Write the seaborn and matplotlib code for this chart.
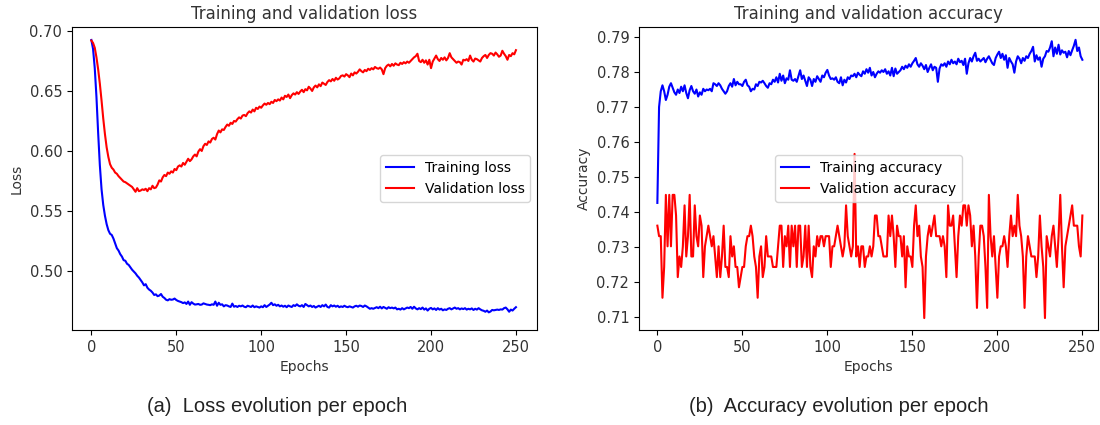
import matplotlib
matplotlib.use("Agg")
import matplotlib.pyplot as plt
import seaborn as sns
import numpy as np

epochs = list(range(251))

train_loss = [
    0.6925, 0.6850, 0.6690, 0.6450, 0.6150, 0.5880, 0.5680, 0.5550, 0.5460, 0.5390,
    0.5340, 0.5310, 0.5300, 0.5270, 0.5230, 0.5190, 0.5170, 0.5140, 0.5120, 0.5090,
    0.5085, 0.5060, 0.5050, 0.5030, 0.5010, 0.4995, 0.4980, 0.4960, 0.4945, 0.4925,
    0.4905, 0.4880, 0.4890, 0.4860, 0.4845, 0.4835, 0.4820, 0.4800, 0.4805, 0.4790,
    0.4795, 0.4808, 0.4785, 0.4775, 0.4760, 0.4755, 0.4765, 0.4760, 0.4762, 0.4770,
    0.4758, 0.4750, 0.4745, 0.4740, 0.4732, 0.4738, 0.4725, 0.4745, 0.4718, 0.4740,
    0.4728, 0.4720, 0.4722, 0.4725, 0.4718, 0.4720, 0.4730, 0.4725, 0.4720, 0.4718,
    0.4715, 0.4722, 0.4718, 0.4745, 0.4710, 0.4735, 0.4718, 0.4722, 0.4705, 0.4715,
    0.4712, 0.4705, 0.4700, 0.4728, 0.4702, 0.4708, 0.4700, 0.4710, 0.4705, 0.4712,
    0.4702, 0.4698, 0.4710, 0.4705, 0.4700, 0.4712, 0.4698, 0.4705, 0.4700, 0.4695,
    0.4705, 0.4698, 0.4715, 0.4700, 0.4710, 0.4720, 0.4735, 0.4715, 0.4722, 0.4710,
    0.4718, 0.4705, 0.4712, 0.4702, 0.4710, 0.4698, 0.4712, 0.4705, 0.4700, 0.4715,
    0.4708, 0.4722, 0.4710, 0.4705, 0.4715, 0.4700, 0.4725, 0.4715, 0.4705, 0.4712,
    0.4700, 0.4708, 0.4695, 0.4702, 0.4710, 0.4700, 0.4715, 0.4705, 0.4720, 0.4700,
    0.4695, 0.4715, 0.4705, 0.4712, 0.4702, 0.4710, 0.4698, 0.4705, 0.4700, 0.4710,
    0.4702, 0.4698, 0.4705, 0.4700, 0.4695, 0.4705, 0.4710, 0.4702, 0.4712, 0.4708,
    0.4700, 0.4712, 0.4705, 0.4695, 0.4685, 0.4690, 0.4685, 0.4692, 0.4698, 0.4690,
    0.4702, 0.4688, 0.4700, 0.4692, 0.4685, 0.4698, 0.4690, 0.4695, 0.4688, 0.4695,
    0.4680, 0.4685, 0.4678, 0.4690, 0.4680, 0.4688, 0.4695, 0.4690, 0.4700, 0.4685,
    0.4702, 0.4688, 0.4680, 0.4690, 0.4682, 0.4695, 0.4678, 0.4688, 0.4670, 0.4685,
    0.4692, 0.4680, 0.4688, 0.4675, 0.4690, 0.4678, 0.4685, 0.4672, 0.4680, 0.4675,
    0.4685, 0.4690, 0.4680, 0.4688, 0.4695, 0.4685, 0.4690, 0.4680, 0.4688, 0.4682,
    0.4690, 0.4678, 0.4685, 0.4680, 0.4688, 0.4675, 0.4685, 0.4678, 0.4690, 0.4680,
    0.4672, 0.4668, 0.4660, 0.4670, 0.4655, 0.4662, 0.4675, 0.4672, 0.4675, 0.4678,
    0.4675, 0.4680, 0.4678, 0.4690, 0.4695, 0.4680, 0.4660, 0.4678, 0.4670, 0.4685,
    0.4698,
]

val_loss = [
    0.6920, 0.6900, 0.6860, 0.6780, 0.6680, 0.6560, 0.6420, 0.6270, 0.6140, 0.6030,
    0.5950, 0.5890, 0.5860, 0.5845, 0.5820, 0.5810, 0.5790, 0.5775, 0.5760, 0.5745,
    0.5740, 0.5730, 0.5720, 0.5710, 0.5700, 0.5680, 0.5660, 0.5690, 0.5665, 0.5670,
    0.5680, 0.5675, 0.5685, 0.5665, 0.5690, 0.5680, 0.5710, 0.5690, 0.5695, 0.5720,
    0.5755, 0.5745, 0.5780, 0.5800, 0.5790, 0.5820, 0.5810, 0.5830, 0.5820, 0.5850,
    0.5840, 0.5870, 0.5880, 0.5870, 0.5900, 0.5885, 0.5910, 0.5935, 0.5915, 0.5930,
    0.5955, 0.5970, 0.5955, 0.5995, 0.6015, 0.6000, 0.6040, 0.6060, 0.6050, 0.6080,
    0.6070, 0.6100, 0.6110, 0.6095, 0.6140, 0.6170, 0.6155, 0.6180, 0.6175, 0.6200,
    0.6220, 0.6210, 0.6235, 0.6225, 0.6250, 0.6245, 0.6265, 0.6280, 0.6270, 0.6295,
    0.6300, 0.6290, 0.6315, 0.6330, 0.6320, 0.6345, 0.6330, 0.6360, 0.6350, 0.6370,
    0.6360, 0.6380, 0.6395, 0.6385, 0.6400, 0.6390, 0.6410, 0.6400, 0.6425, 0.6415,
    0.6430, 0.6420, 0.6445, 0.6430, 0.6460, 0.6450, 0.6470, 0.6440, 0.6465, 0.6480,
    0.6470, 0.6490, 0.6475, 0.6495, 0.6510, 0.6490, 0.6515, 0.6505, 0.6535, 0.6520,
    0.6500, 0.6530, 0.6545, 0.6530, 0.6555, 0.6540, 0.6570, 0.6560, 0.6550, 0.6575,
    0.6590, 0.6580, 0.6600, 0.6585, 0.6610, 0.6595, 0.6605, 0.6625, 0.6630, 0.6620,
    0.6640, 0.6630, 0.6615, 0.6645, 0.6630, 0.6655, 0.6645, 0.6660, 0.6680, 0.6665,
    0.6655, 0.6675, 0.6665, 0.6685, 0.6675, 0.6690, 0.6680, 0.6700, 0.6690, 0.6685,
    0.6695, 0.6680, 0.6640, 0.6690, 0.6710, 0.6720, 0.6705, 0.6725, 0.6710, 0.6730,
    0.6720, 0.6715, 0.6735, 0.6725, 0.6740, 0.6730, 0.6745, 0.6735, 0.6750, 0.6765,
    0.6780, 0.6790, 0.6810, 0.6750, 0.6740, 0.6760, 0.6735, 0.6755, 0.6720, 0.6760,
    0.6690, 0.6745, 0.6770, 0.6795, 0.6765, 0.6750, 0.6775, 0.6760, 0.6780, 0.6755,
    0.6775, 0.6815, 0.6780, 0.6765, 0.6750, 0.6735, 0.6745, 0.6740, 0.6720, 0.6760,
    0.6755, 0.6765, 0.6750, 0.6795, 0.6760, 0.6745, 0.6770, 0.6765, 0.6755, 0.6745,
    0.6775, 0.6790, 0.6800, 0.6775, 0.6800, 0.6815, 0.6810, 0.6795, 0.6820, 0.6805,
    0.6785, 0.6795, 0.6835, 0.6810, 0.6790, 0.6760, 0.6800, 0.6790, 0.6815, 0.6805,
    0.6840,
]

train_acc = [
    0.7426, 0.7700, 0.7745, 0.7762, 0.7745, 0.7720, 0.7735, 0.7758, 0.7768, 0.7755,
    0.7742, 0.7735, 0.7750, 0.7740, 0.7758, 0.7745, 0.7762, 0.7740, 0.7725, 0.7748,
    0.7760, 0.7745, 0.7738, 0.7750, 0.7730, 0.7742, 0.7735, 0.7752, 0.7745, 0.7750,
    0.7748, 0.7752, 0.7745, 0.7768, 0.7765, 0.7760, 0.7768, 0.7762, 0.7752, 0.7745,
    0.7738, 0.7745, 0.7760, 0.7768, 0.7758, 0.7780, 0.7762, 0.7772, 0.7765, 0.7765,
    0.7760, 0.7772, 0.7778, 0.7762, 0.7758, 0.7745, 0.7752, 0.7750, 0.7765, 0.7760,
    0.7772, 0.7770, 0.7775, 0.7768, 0.7760, 0.7755, 0.7768, 0.7765, 0.7778, 0.7772,
    0.7785, 0.7770, 0.7795, 0.7775, 0.7790, 0.7768, 0.7782, 0.7778, 0.7805, 0.7778,
    0.7775, 0.7780, 0.7772, 0.7788, 0.7805, 0.7780, 0.7790, 0.7775, 0.7760, 0.7785,
    0.7778, 0.7760, 0.7780, 0.7772, 0.7788, 0.7780, 0.7772, 0.7790, 0.7785, 0.7798,
    0.7806, 0.7790, 0.7780, 0.7782, 0.7778, 0.7785, 0.7772, 0.7768, 0.7785, 0.7762,
    0.7778, 0.7770, 0.7785, 0.7780, 0.7790, 0.7788, 0.7795, 0.7785, 0.7798, 0.7792,
    0.7788, 0.7802, 0.7795, 0.7808, 0.7798, 0.7812, 0.7790, 0.7800, 0.7785, 0.7795,
    0.7802, 0.7798, 0.7805, 0.7800, 0.7808, 0.7795, 0.7802, 0.7790, 0.7812, 0.7788,
    0.7810, 0.7795, 0.7800, 0.7805, 0.7815, 0.7808, 0.7818, 0.7812, 0.7822, 0.7815,
    0.7825, 0.7832, 0.7840, 0.7822, 0.7815, 0.7825, 0.7818, 0.7808, 0.7820, 0.7800,
    0.7812, 0.7822, 0.7805, 0.7815, 0.7812, 0.7772, 0.7810, 0.7822, 0.7818, 0.7825,
    0.7815, 0.7830, 0.7822, 0.7835, 0.7825, 0.7830, 0.7822, 0.7838, 0.7828, 0.7832,
    0.7820, 0.7838, 0.7795, 0.7825, 0.7840, 0.7830, 0.7845, 0.7855, 0.7832, 0.7838,
    0.7830, 0.7835, 0.7840, 0.7828, 0.7838, 0.7845, 0.7835, 0.7825, 0.7820, 0.7840,
    0.7850, 0.7858, 0.7840, 0.7852, 0.7835, 0.7848, 0.7812, 0.7840, 0.7830, 0.7822,
    0.7798, 0.7830, 0.7845, 0.7838, 0.7825, 0.7840, 0.7832, 0.7845, 0.7840, 0.7852,
    0.7860, 0.7872, 0.7830, 0.7848, 0.7835, 0.7842, 0.7815, 0.7838, 0.7845, 0.7860,
    0.7858, 0.7870, 0.7888, 0.7845, 0.7870, 0.7852, 0.7878, 0.7850, 0.7862, 0.7855,
    0.7858, 0.7842, 0.7860, 0.7848, 0.7862, 0.7875, 0.7892, 0.7860, 0.7870, 0.7845,
    0.7835,
]

val_acc = [
    0.7361, 0.7331, 0.7331, 0.7155, 0.7243, 0.7449, 0.7302, 0.7449, 0.7302, 0.7449,
    0.7449, 0.7390, 0.7214, 0.7273, 0.7243, 0.7302, 0.7419, 0.7273, 0.7331, 0.7449,
    0.7273, 0.7273, 0.7419, 0.7331, 0.7302, 0.7390, 0.7361, 0.7214, 0.7302, 0.7331,
    0.7361, 0.7331, 0.7302, 0.7331, 0.7273, 0.7214, 0.7302, 0.7214, 0.7273, 0.7361,
    0.7243, 0.7243, 0.7214, 0.7331, 0.7273, 0.7302, 0.7243, 0.7243, 0.7185, 0.7214,
    0.7243, 0.7243, 0.7302, 0.7331, 0.7331, 0.7361, 0.7331, 0.7273, 0.7243, 0.7155,
    0.7273, 0.7302, 0.7214, 0.7243, 0.7331, 0.7273, 0.7273, 0.7273, 0.7243, 0.7243,
    0.7243, 0.7302, 0.7361, 0.7361, 0.7243, 0.7331, 0.7302, 0.7361, 0.7243, 0.7361,
    0.7302, 0.7361, 0.7243, 0.7361, 0.7361, 0.7243, 0.7273, 0.7361, 0.7243, 0.7361,
    0.7243, 0.7214, 0.7302, 0.7273, 0.7331, 0.7302, 0.7331, 0.7331, 0.7302, 0.7331,
    0.7331, 0.7331, 0.7243, 0.7302, 0.7302, 0.7331, 0.7361, 0.7331, 0.7302, 0.7273,
    0.7302, 0.7419, 0.7331, 0.7302, 0.7273, 0.7302, 0.7566, 0.7273, 0.7302, 0.7243,
    0.7302, 0.7302, 0.7243, 0.7273, 0.7273, 0.7302, 0.7273, 0.7302, 0.7390, 0.7390,
    0.7331, 0.7331, 0.7302, 0.7273, 0.7273, 0.7273, 0.7390, 0.7331, 0.7390, 0.7331,
    0.7243, 0.7361, 0.7331, 0.7331, 0.7273, 0.7331, 0.7185, 0.7302, 0.7273, 0.7273,
    0.7243, 0.7361, 0.7419, 0.7331, 0.7361, 0.7273, 0.7243, 0.7097, 0.7273, 0.7331,
    0.7361, 0.7331, 0.7361, 0.7390, 0.7331, 0.7331, 0.7331, 0.7302, 0.7331, 0.7302,
    0.7214, 0.7419, 0.7361, 0.7361, 0.7390, 0.7302, 0.7214, 0.7331, 0.7390, 0.7361,
    0.7419, 0.7419, 0.7361, 0.7419, 0.7390, 0.7302, 0.7361, 0.7273, 0.7126, 0.7273,
    0.7361, 0.7361, 0.7331, 0.7243, 0.7126, 0.7449, 0.7331, 0.7273, 0.7331, 0.7243,
    0.7155, 0.7273, 0.7302, 0.7302, 0.7331, 0.7302, 0.7243, 0.7331, 0.7390, 0.7331,
    0.7361, 0.7331, 0.7449, 0.7361, 0.7331, 0.7273, 0.7126, 0.7273, 0.7331, 0.7302,
    0.7273, 0.7273, 0.7273, 0.7214, 0.7273, 0.7390, 0.7302, 0.7243, 0.7097, 0.7331,
    0.7302, 0.7273, 0.7331, 0.7361, 0.7302, 0.7243, 0.7331, 0.7449, 0.7302, 0.7185,
    0.7302, 0.7331, 0.7361, 0.7390, 0.7419, 0.7361, 0.7361, 0.7361, 0.7302, 0.7273,
    0.7390,
]

titles = ["Training and validation loss", "Training and validation accuracy"]
ylabels = ["Loss", "Accuracy"]
xlabel = "Epochs"
legend_labels = [["Training loss", "Validation loss"],
                 ["Training accuracy", "Validation accuracy"]]
captions = ["(a)  Loss evolution per epoch", "(b)  Accuracy evolution per epoch"]

W, H = 1100, 425
fig = plt.figure(figsize=(W / 100, H / 100), dpi=100)

def frac(x0, x1, ytop, ybot):
    return [x0 / W, 1 - ybot / H, (x1 - x0) / W, (ybot - ytop) / H]

ax1 = fig.add_axes(frac(72, 537, 27, 330))
ax2 = fig.add_axes(frac(639, 1098, 27, 330))

series = [(train_loss, val_loss), (train_acc, val_acc)]
for i, ax in enumerate([ax1, ax2]):
    tr, va = series[i]
    sns.lineplot(x=epochs, y=tr, color="blue", label=legend_labels[i][0], ax=ax, linewidth=1.5)
    sns.lineplot(x=epochs, y=va, color="red", label=legend_labels[i][1], ax=ax, linewidth=1.5)
    ax.set_title(titles[i], fontsize=12, pad=6, color="#333333")
    ax.set_xlabel(xlabel, fontsize=10, color="#333333")
    ax.set_ylabel(ylabels[i], fontsize=10, color="#333333")
    ax.tick_params(labelsize=10.5, labelcolor="#333333")
    ax.set_xticks([0, 50, 100, 150, 200, 250])

ax1.set_xlim(-11.4, 262.4)
ax1.set_ylim(0.4508, 0.7033)
ax1.set_yticks([0.50, 0.55, 0.60, 0.65, 0.70])
ax1.legend(loc="center right", fontsize=10)

ax2.set_xlim(-10.8, 259.2)
ax2.set_ylim(0.70629, 0.79286)
ax2.set_yticks([0.71, 0.72, 0.73, 0.74, 0.75, 0.76, 0.77, 0.78, 0.79])
ax2.legend(loc="center", fontsize=10)

fig.text(277 / W, 1 - 407 / H, captions[0], ha="center", va="center",
         fontsize=14.5, family="Liberation Sans", color="#222222")
fig.text(839 / W, 1 - 407 / H, captions[1], ha="center", va="center",
         fontsize=14.5, family="Liberation Sans", color="#222222")

fig.savefig("out.png", dpi=100)
